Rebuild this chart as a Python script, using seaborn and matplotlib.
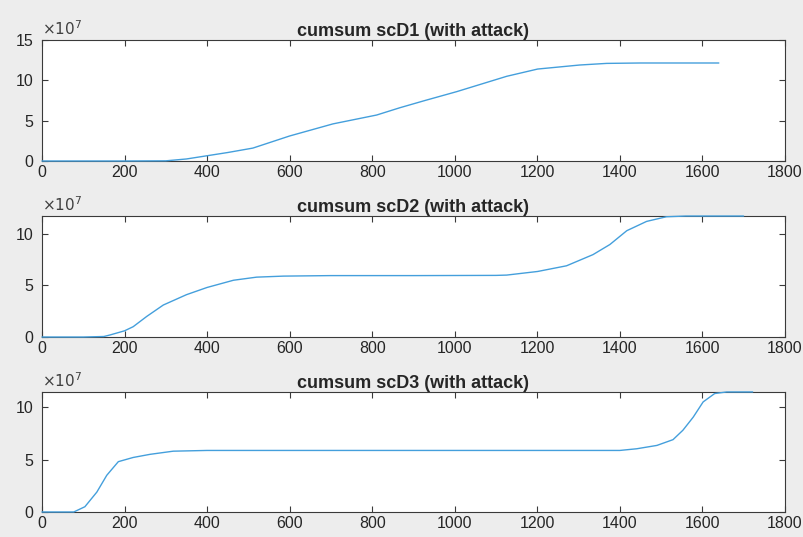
import numpy as np
import pandas as pd
import matplotlib
matplotlib.use("Agg")
import matplotlib.pyplot as plt
import seaborn as sns

sns.set_style("ticks")
plt.rcParams["font.family"] = ["Liberation Sans", "DejaVu Sans"]

# values, in units of 1e7
d1_x = [0, 100, 200, 300, 350, 400, 450, 511, 600, 705, 811, 867, 928, 1005,
        1126, 1201, 1303, 1368, 1450, 1640]
d1_y = [0, 0, 0, 0.02, 0.25, 0.65, 1.05, 1.6, 3.1, 4.6, 5.7, 6.6, 7.5, 8.6,
        10.5, 11.4, 11.9, 12.1, 12.15, 12.15]

d2_x = [0, 100, 150, 165, 200, 221, 254, 294, 350, 400, 464, 520, 585, 700,
        900, 1100, 1126, 1201, 1271, 1335, 1376, 1417, 1465, 1513, 1560, 1700]
d2_y = [0, 0, 0.05, 0.2, 0.6, 1.0, 2.0, 3.1, 4.1, 4.8, 5.5, 5.8, 5.9, 5.95,
        5.95, 5.97, 6.0, 6.35, 6.9, 7.98, 8.96, 10.3, 11.2, 11.65, 11.72, 11.72]

d3_x = [0, 77, 104, 133, 157, 185, 221, 262, 318, 400, 800, 1200, 1400, 1441,
        1490, 1529, 1553, 1578, 1602, 1630, 1659, 1722]
d3_y = [0, 0, 0.5, 1.9, 3.5, 4.8, 5.2, 5.5, 5.8, 5.87, 5.87, 5.87, 5.87, 6.03,
        6.35, 6.9, 7.8, 9.05, 10.5, 11.3, 11.45, 11.45]

titles = ["cumsum scD1 (with attack)", "cumsum scD2 (with attack)",
          "cumsum scD3 (with attack)"]
series = [(d1_x, d1_y), (d2_x, d2_y), (d3_x, d3_y)]
ylims = [15, max(d2_y), max(d3_y)]
yticks = [[0, 5, 10, 15], [0, 5, 10], [0, 5, 10]]
xticks = list(range(0, 1801, 200))

line_color = "#449fdc"
axis_color = "#3a3a3a"

fig = plt.figure(figsize=(8.04, 5.37), dpi=100)
fig.patch.set_facecolor("#ededed")

boxes = [(0.0522, 0.7002, 0.924, 0.2253),
         (0.0522, 0.3724, 0.924, 0.2253),
         (0.0522, 0.0466, 0.924, 0.2235)]

for box, (xs, ys), title, ytop, yt in zip(boxes, series, titles, ylims, yticks):
    ax = fig.add_axes(box)
    df = pd.DataFrame({"x": xs, "y": ys})
    sns.lineplot(data=df, x="x", y="y", ax=ax, color=line_color, linewidth=1.0)
    for ln in ax.lines:
        ln.set_clip_on(False)
        ln.set_zorder(5)
    ax.set_xlim(0, 1800)
    ax.set_ylim(0, ytop)
    ax.set_xticks(xticks)
    ax.set_yticks(yt)
    ax.set_xlabel("")
    ax.set_ylabel("")
    ax.set_facecolor("white")
    for sp in ax.spines.values():
        sp.set_visible(True)
        sp.set_color(axis_color)
        sp.set_linewidth(0.8)
    ax.tick_params(direction="in", length=4, width=0.8, top=True, right=True,
                   colors=axis_color, labelcolor="#262626", labelsize=11.5)
    ax.tick_params(axis="x", pad=3)
    ax.tick_params(axis="y", pad=6)
    ax.set_title(title, fontsize=13, fontweight="bold", pad=3)
    ax.text(0.0, 1.015, r"$\times10^{7}$", transform=ax.transAxes,
            fontsize=11, color="#404040", ha="left", va="bottom")

fig.savefig("out.png", dpi=100, facecolor=fig.get_facecolor())
